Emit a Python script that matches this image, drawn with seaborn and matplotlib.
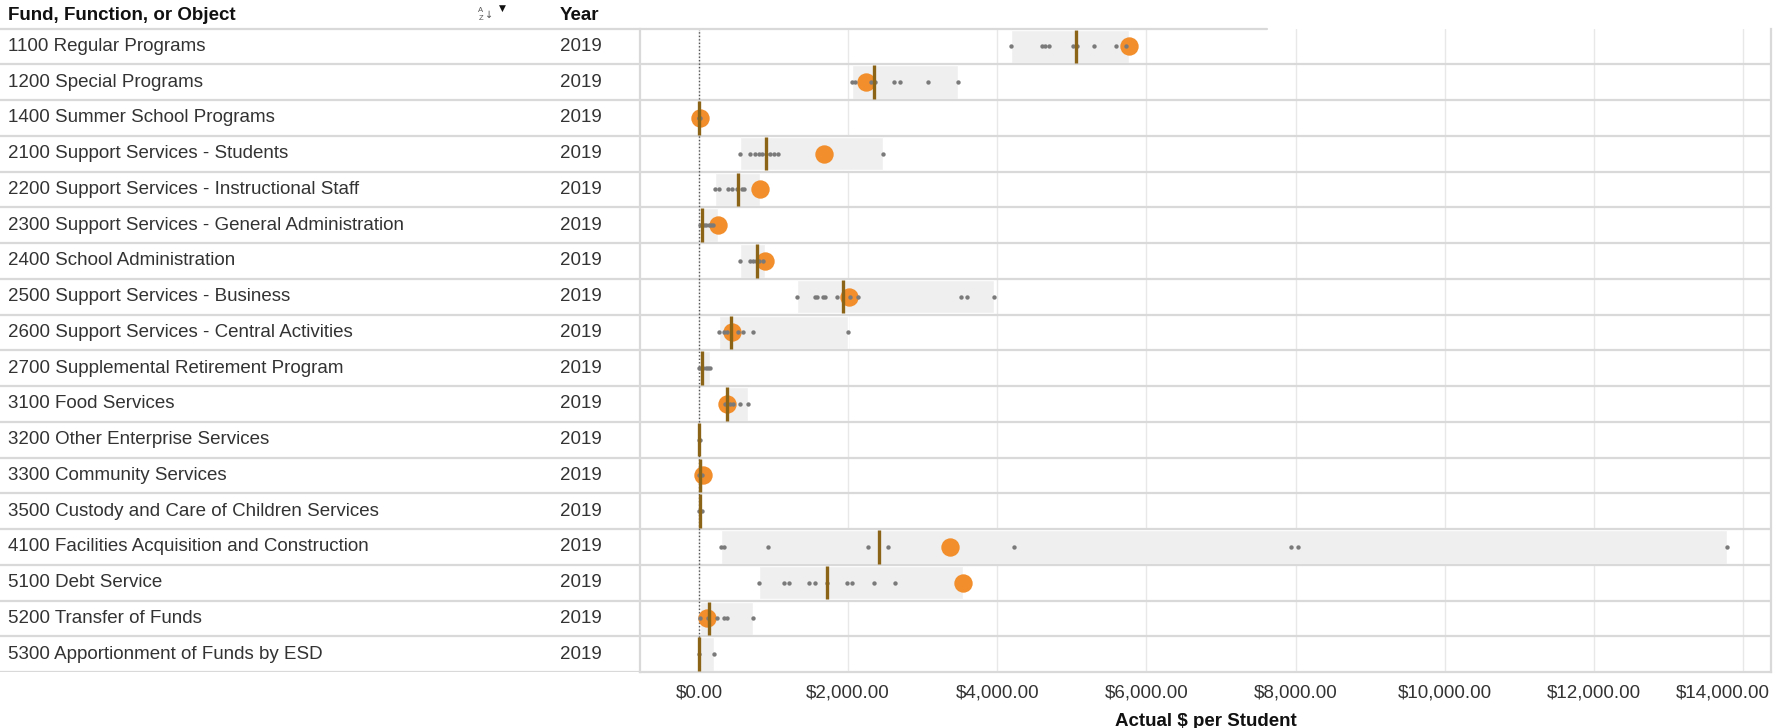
import numpy as np
import pandas as pd
import matplotlib
matplotlib.use("Agg")
import matplotlib.pyplot as plt
from matplotlib.lines import Line2D
from matplotlib.ticker import FuncFormatter
from matplotlib.transforms import ScaledTranslation
import seaborn as sns

# ---------------- data ----------------
categories = [
    "1100 Regular Programs",
    "1200 Special Programs",
    "1400 Summer School Programs",
    "2100 Support Services - Students",
    "2200 Support Services - Instructional Staff",
    "2300 Support Services - General Administration",
    "2400 School Administration",
    "2500 Support Services - Business",
    "2600 Support Services - Central Activities",
    "2700 Supplemental Retirement Program",
    "3100 Food Services",
    "3200 Other Enterprise Services",
    "3300 Community Services",
    "3500 Custody and Care of Children Services",
    "4100 Facilities Acquisition and Construction",
    "5100 Debt Service",
    "5200 Transfer of Funds",
    "5300 Apportionment of Funds by ESD",
]
years = [2019] * 18

medians = [5050, 2345, 0, 900, 520, 35, 780, 1930, 425, 40,
           370, 0, 15, 15, 2415, 1720, 140, 5]

district = [5770, 2245, 10, 1675, 820, 250, 885, 2010, 440, np.nan,
            370, np.nan, 50, np.nan, 3360, 3535, 105, np.nan]

peers_1100 = [4180, 4600, 4640, 4690, 5020, 5070, 5300, 5590, 5730]
peers_1200 = [2050, 2090, 2310, 2360, 2620, 2690, 3070, 3475]
peers_1400 = [0, 5, 10]
peers_2100 = [555, 680, 750, 800, 850, 900, 950, 1000, 1060, 2470]
peers_2200 = [215, 270, 385, 440, 505, 575, 610]
peers_2300 = [10, 40, 70, 100, 130, 160, 190]
peers_2400 = [550, 685, 720, 760, 800, 860]
peers_2500 = [1315, 1555, 1580, 1665, 1690, 1845, 2025, 2130, 3520, 3600, 3955]
peers_2600 = [275, 330, 380, 520, 585, 725, 1995]
peers_2700 = [0, 30, 60, 90, 120, 150]
peers_3100 = [345, 380, 420, 460, 550, 655]
peers_3200 = [0, 10]
peers_3300 = [0, 20, 40]
peers_3500 = [0, 20, 45]
peers_4100 = [290, 330, 920, 2270, 2535, 4225, 7940, 8035, 13780]
peers_5100 = [810, 1140, 1210, 1475, 1555, 1720, 1985, 2055, 2345, 2630]
peers_5200 = [20, 120, 235, 330, 380, 725]
peers_5300 = [0, 195]

peers = [peers_1100, peers_1200, peers_1400, peers_2100, peers_2200, peers_2300,
         peers_2400, peers_2500, peers_2600, peers_2700, peers_3100, peers_3200,
         peers_3300, peers_3500, peers_4100, peers_5100, peers_5200, peers_5300]

x_ticks = [0, 2000, 4000, 6000, 8000, 10000, 12000, 14000]

# ---------------- build frames ----------------
rows = np.arange(len(categories))
dots_df = pd.DataFrame(
    [(i, v) for i, vals in enumerate(peers) for v in vals], columns=["row", "value"]
)
summary = pd.DataFrame({"row": rows, "category": categories, "year": years,
                        "median": medians, "district": district})
summary["lo"] = [min(p + ([d] if not np.isnan(d) else [])) for p, d in zip(peers, district)]
summary["hi"] = [max(p + ([d] if not np.isnan(d) else [])) for p, d in zip(peers, district)]

# ---------------- style ----------------
sns.set_theme(style="white")
plt.rcParams["font.family"] = ["Liberation Sans", "DejaVu Sans"]

W, H = 1783, 728
fig = plt.figure(figsize=(W / 100, H / 100), dpi=100)

top_px, bot_px = 28.5, 672.0
left_px, right_px = 640.0, 1771.0
ax_b = 1 - bot_px / H
ax_h = (bot_px - top_px) / H
ax = fig.add_axes([left_px / W, ax_b, (right_px - left_px) / W, ax_h])
tab = fig.add_axes([0, ax_b, left_px / W, ax_h])

SEP = "#d9d9d9"
TXT = "#333333"
GRID = "#e8e8e8"
BROWN = "#8c6418"
ORANGE = "#f28e2b"

# ---------------- table part ----------------
tab.set_xlim(0, left_px)
tab.set_ylim(len(categories) - 0.5, -0.5)
tab.axis("off")
for i, (cat, yr) in enumerate(zip(categories, years)):
    tab.text(8, i, cat, ha="left", va="center", fontsize=13.5, color=TXT)
    tab.text(560, i, str(yr), ha="left", va="center", fontsize=13.5, color=TXT)
for b in np.arange(0.5, len(categories), 1.0):
    tab.axhline(b, color=SEP, lw=1.6)

# header
hy = 1 - 15 / H
fig.text(8 / W, hy, "Fund, Function, or Object", ha="left", va="center",
         fontsize=13.5, fontweight="bold", color="#111111")
fig.text(560 / W, hy, "Year", ha="left", va="center",
         fontsize=13.5, fontweight="bold", color="#111111")
fig.text(481 / W, 1 - 10 / H, "A", ha="center", va="center", fontsize=5.5, color="#555555")
fig.text(481 / W, 1 - 18 / H, "Z", ha="center", va="center", fontsize=5.5, color="#555555")
fig.text(489 / W, 1 - 15 / H, "\u2193", ha="center", va="center", fontsize=7,
         color="#555555", family="DejaVu Sans")
fig.text(502 / W, 1 - 8 / H, "\u25BC", ha="center", va="center", fontsize=6.5,
         color="#111111", family="DejaVu Sans")
fig.add_artist(Line2D([0, 1267 / W], [1 - top_px / H] * 2, color=SEP, lw=1.6,
                      transform=fig.transFigure))

# ---------------- plot part ----------------
ax.set_xlim(-791, 14376)
ax.set_ylim(len(categories) - 0.5, -0.5)

# range bands
ax.barh(summary["row"], summary["hi"] - summary["lo"], left=summary["lo"],
        height=0.94, color="#efefef", zorder=1)

# district marker
sns.scatterplot(data=summary, x="district", y="row", s=175, color=ORANGE,
                linewidth=0, ax=ax, zorder=3, legend=False)
# peer dots
sns.scatterplot(data=dots_df, x="value", y="row", s=10, color="#7a7a7a",
                linewidth=0, ax=ax, zorder=4, legend=False)
# median lines
ax.vlines(summary["median"], summary["row"] - 0.47, summary["row"] + 0.47,
          color=BROWN, lw=2.4, zorder=5)

# zero reference
ax.axvline(0, color="#555555", lw=1.0, ls=(0, (1, 1.5)), zorder=2)

for b in np.arange(0.5, len(categories) - 1, 1.0):
    ax.axhline(b, color=SEP, lw=1.6, zorder=1.5)

ax.set_axisbelow(True)
ax.grid(axis="x", color=GRID, lw=1.0)
ax.grid(axis="y", visible=False)
ax.set_xticks(x_ticks)
ax.xaxis.set_major_formatter(FuncFormatter(lambda v, p: f"${v:,.2f}"))
ax.set_yticks([])
ax.tick_params(axis="x", length=5, width=1, color="#d0d0d0", labelcolor=TXT,
               labelsize=13.5, pad=4)
ax.set_xlabel("")
ax.set_ylabel("")
for s in ["left", "right", "bottom"]:
    ax.spines[s].set_color(SEP)
    ax.spines[s].set_linewidth(1.6)
ax.spines["top"].set_visible(False)

# keep the last tick label inside the canvas (as in the reference)
last = ax.get_xticklabels()[-1]
last.set_transform(last.get_transform() + ScaledTranslation(-20 / 100, 0, fig.dpi_scale_trans))

fig.text((left_px + right_px) / 2 / W, 1 - 721 / H, "Actual $ per Student",
         ha="center", va="center", fontsize=13.5, fontweight="bold", color="#111111")

fig.savefig("out.png", dpi=100)
